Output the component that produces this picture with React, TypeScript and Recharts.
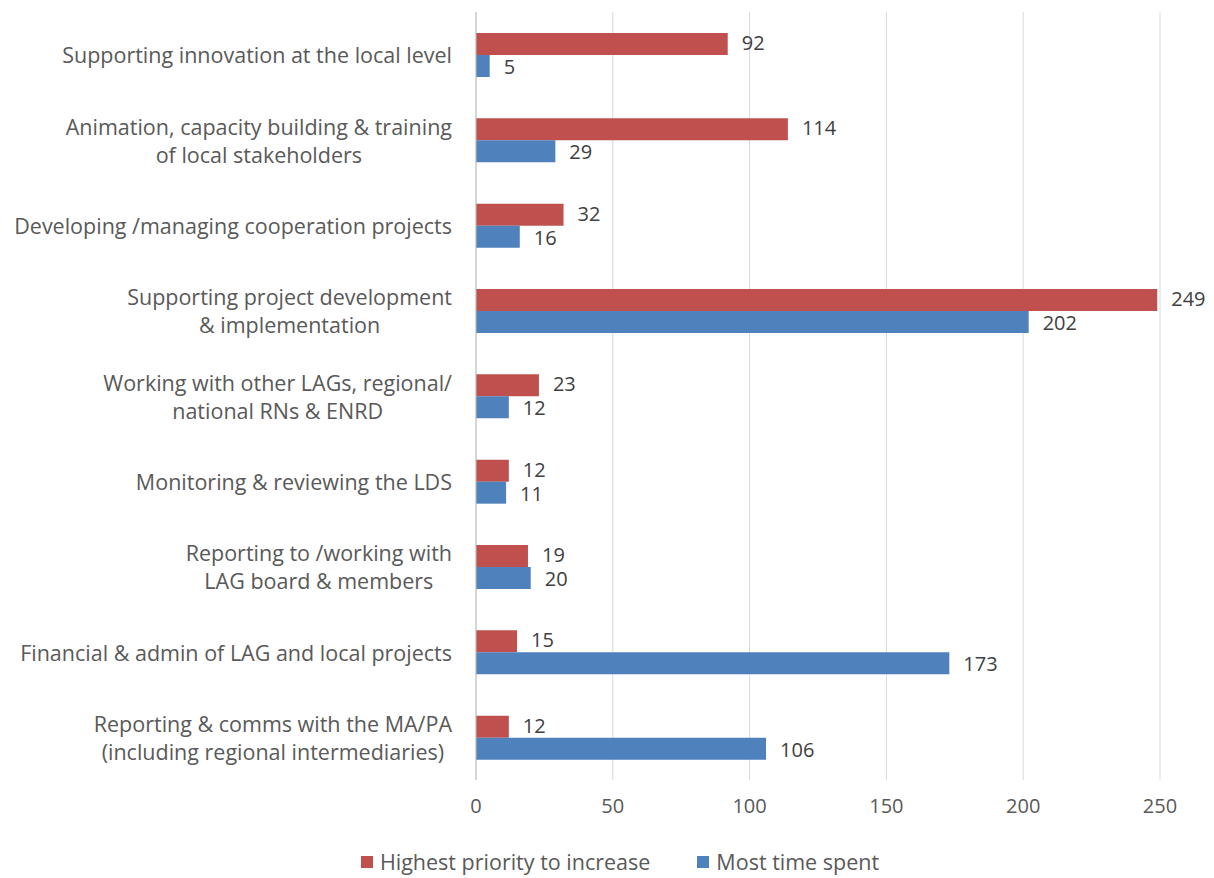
import React from 'react';
import { BarChart, Bar, XAxis, YAxis, CartesianGrid, LabelList, Legend } from 'recharts';

const categories = [
    'Supporting innovation at the local level',
    'Animation, capacity building & training\nof local stakeholders',
    'Developing /managing cooperation projects',
    'Supporting project development\n& implementation',
    'Working with other LAGs, regional/\nnational RNs & ENRD',
    'Monitoring & reviewing the LDS',
    'Reporting to /working with\nLAG board & members',
    'Financial & admin of LAG and local projects',
    'Reporting & comms with the MA/PA\n(including regional intermediaries)',
];
const highestPriority = [92, 114, 32, 249, 23, 12, 19, 15, 12];
const mostTimeSpent = [5, 29, 16, 202, 12, 11, 20, 173, 106];
const xTicks = [0, 50, 100, 150, 200, 250];

const RED = '#C0504D';
const BLUE = '#4F81BD';
const FONT = '"Open Sans", Lato, sans-serif';
const LABEL_SIZE = 21.5;

const data = categories.map((name, i) => ({
    name,
    priority: highestPriority[i],
    time: mostTimeSpent[i],
}));

let ctx: CanvasRenderingContext2D | null = null;
const measure = (text: string) => {
    if (!ctx) ctx = document.createElement('canvas').getContext('2d');
    if (!ctx) return text.length * 9;
    ctx.font = `${LABEL_SIZE}px ${FONT}`;
    return ctx.measureText(text).width;
};

// multi-line category label, lines centred on each other, block right-aligned to the axis
const CategoryTick = (props: any) => {
    const { x, y, payload } = props;
    const lines: string[] = String(payload.value).split('\n');
    const maxW = Math.max(...lines.map(measure));
    const cx = x - maxW / 2;
    const lh = 28;
    const startY = y - ((lines.length - 1) * lh) / 2;
    return (
        <g>
            {lines.map((line, i) => (
                <text
                    key={i}
                    x={cx}
                    y={startY + i * lh}
                    textAnchor="middle"
                    dominantBaseline="central"
                    fill="#595959"
                    fontSize={LABEL_SIZE}
                    fontFamily={FONT}
                >
                    {line}
                </text>
            ))}
        </g>
    );
};

const LegendContent = () => (
    <div style={{ display: 'flex', justifyContent: 'center', alignItems: 'center', fontFamily: FONT, fontSize: 21.5, lineHeight: '28px', color: '#595959', height: 28, paddingLeft: 80 }}>
        <span style={{ display: 'inline-block', width: 12, height: 12, background: RED, marginRight: 7 }} />
        <span style={{ marginRight: 47 }}>Highest priority to increase</span>
        <span style={{ display: 'inline-block', width: 12, height: 12, background: BLUE, marginRight: 7 }} />
        <span>Most time spent</span>
    </div>
);

const App = () => {
    return (
        <div style={{ position: 'fixed', top: 0, left: 0, width: 1214, height: 878, overflow: 'hidden', background: '#fff' }}>
            <BarChart
                width={1214}
                height={878}
                data={data}
                layout="vertical"
                margin={{ top: 12, right: 54, left: 0, bottom: 2 }}
                barGap={0}
                barSize={22}
            >
                <CartesianGrid horizontal={false} stroke="#d9d9d9" />
                <XAxis
                    type="number"
                    domain={[0, 250]}
                    ticks={xTicks}
                    axisLine={false}
                    tickLine={false}
                    tickMargin={13}
                    height={68}
                    tick={{ fill: '#595959', fontSize: 20, fontFamily: FONT }}
                />
                <YAxis
                    type="category"
                    dataKey="name"
                    width={476}
                    axisLine={{ stroke: '#bfbfbf' }}
                    tickLine={false}
                    tickMargin={18}
                    interval={0}
                    tick={<CategoryTick />}
                />
                <Legend verticalAlign="bottom" content={<LegendContent />} />
                <Bar dataKey="priority" name="Highest priority to increase" fill={RED} isAnimationActive={false}>
                    <LabelList dataKey="priority" position="right" offset={14} dy={-1} fill="#404040" fontSize={20} fontFamily={FONT} />
                </Bar>
                <Bar dataKey="time" name="Most time spent" fill={BLUE} isAnimationActive={false}>
                    <LabelList dataKey="time" position="right" offset={14} dy={1} fill="#404040" fontSize={20} fontFamily={FONT} />
                </Bar>
            </BarChart>
        </div>
    );
};

export default App;
